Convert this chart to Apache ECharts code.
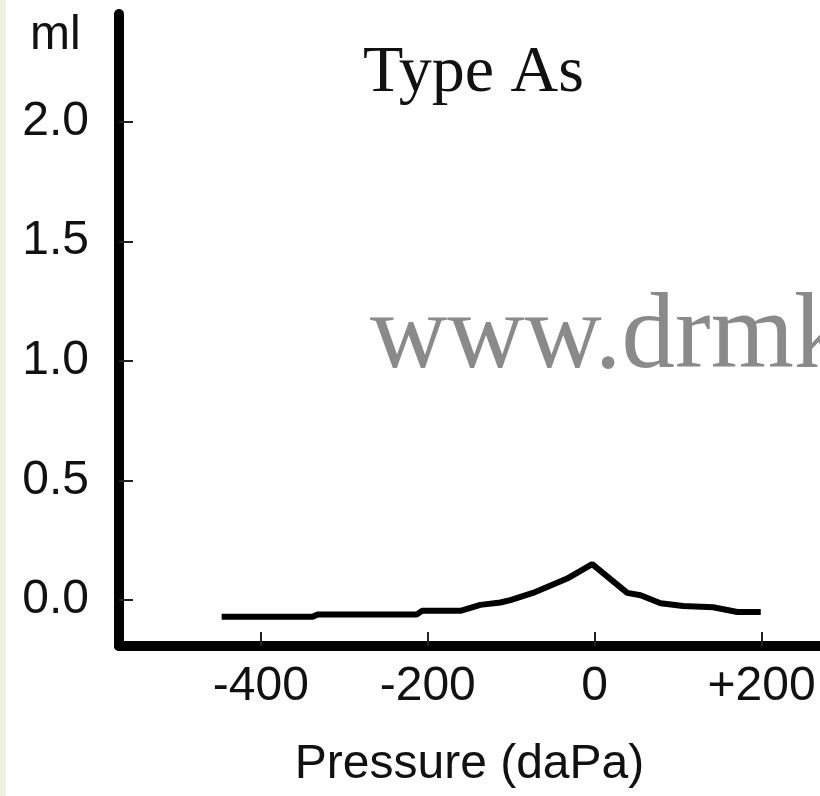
<!DOCTYPE html>
<html>
<head>
<meta charset="utf-8">
<script src="https://cdn.jsdelivr.net/npm/echarts@6/dist/echarts.min.js"></script>
<style>
html,body{margin:0;padding:0;background:#fff;}
#c{width:820px;height:796px;}
</style>
</head>
<body>
<div id="c"></div>
<script>
// Tympanogram "Type As" – compliance (ml) vs pressure (daPa)
const pressure = [-447, -338, -332, -213, -207, -161, -137, -113, -101, -74, -57, -33, -3, 39, 55, 79, 106, 142, 171, 199];
const volume   = [-0.07, -0.07, -0.06, -0.06, -0.045, -0.045, -0.02, -0.01, 0.0, 0.03, 0.055, 0.09, 0.15, 0.03, 0.02, -0.013, -0.025, -0.03, -0.05, -0.05];
const xTickValues = [-400, -200, 0, 200];
const yTickValues = [0, 0.5, 1.0, 1.5, 2.0];
const titleText = 'Type As';
const watermarkText = 'www.drmk';
const xName = 'Pressure (daPa)';
const yName = 'ml';

const chart = echarts.init(document.getElementById('c'), null, {renderer: 'canvas'});
const sans = '"Liberation Sans", Arial, sans-serif';
const serif = '"Liberation Serif", "Times New Roman", serif';

chart.setOption({
  animation: false,
  backgroundColor: '#ffffff',
  grid: {left: 119, right: 0, top: 14, bottom: 150, containLabel: false},
  xAxis: {
    type: 'value',
    min: -570, max: 270,
    name: xName,
    nameLocation: 'middle',
    nameGap: 95,
    nameTextStyle: {fontFamily: sans, fontSize: 48, color: '#111'},
    axisLine: {show: true, onZero: false, lineStyle: {color: '#000', width: 10}},
    axisTick: {show: true, inside: true, length: 14, customValues: xTickValues, lineStyle: {color: '#222', width: 2}},
    axisLabel: {show: true, margin: 17, customValues: xTickValues, fontFamily: sans, fontSize: 48, color: '#111',
      formatter: v => (v > 0 ? '+' + v : String(v))},
    splitLine: {show: false}
  },
  yAxis: {
    type: 'value',
    min: -0.192, max: 2.45,
    axisLine: {show: true, onZero: false, lineStyle: {color: '#000', width: 10}},
    axisTick: {show: true, inside: true, length: 14, customValues: yTickValues, lineStyle: {color: '#222', width: 2}},
    axisLabel: {show: true, margin: 30, customValues: yTickValues, fontFamily: sans, fontSize: 48, color: '#111',
      formatter: v => v.toFixed(1)},
    splitLine: {show: false}
  },
  graphic: [
    {type: 'rect', left: 0, top: 0, shape: {width: 6, height: 796}, style: {fill: '#eef0df'}, silent: true},
    {type: 'text', left: 30, top: 12, style: {text: yName, fontFamily: sans, fontSize: 48, fill: '#111'}},
    {type: 'text', left: 363, top: 41, style: {text: titleText, fontFamily: serif, fontSize: 66, fill: '#111'}},
    {type: 'text', left: 370, top: 285, style: {text: watermarkText, fontFamily: serif, fontSize: 107, fill: '#8a8a8a'}}
  ],
  series: [{
    type: 'line',
    data: pressure.map((p, i) => [p, volume[i]]),
    showSymbol: false,
    smooth: false,
    lineStyle: {color: '#000', width: 6},
    clip: false
  }]
});
</script>
</body>
</html>
